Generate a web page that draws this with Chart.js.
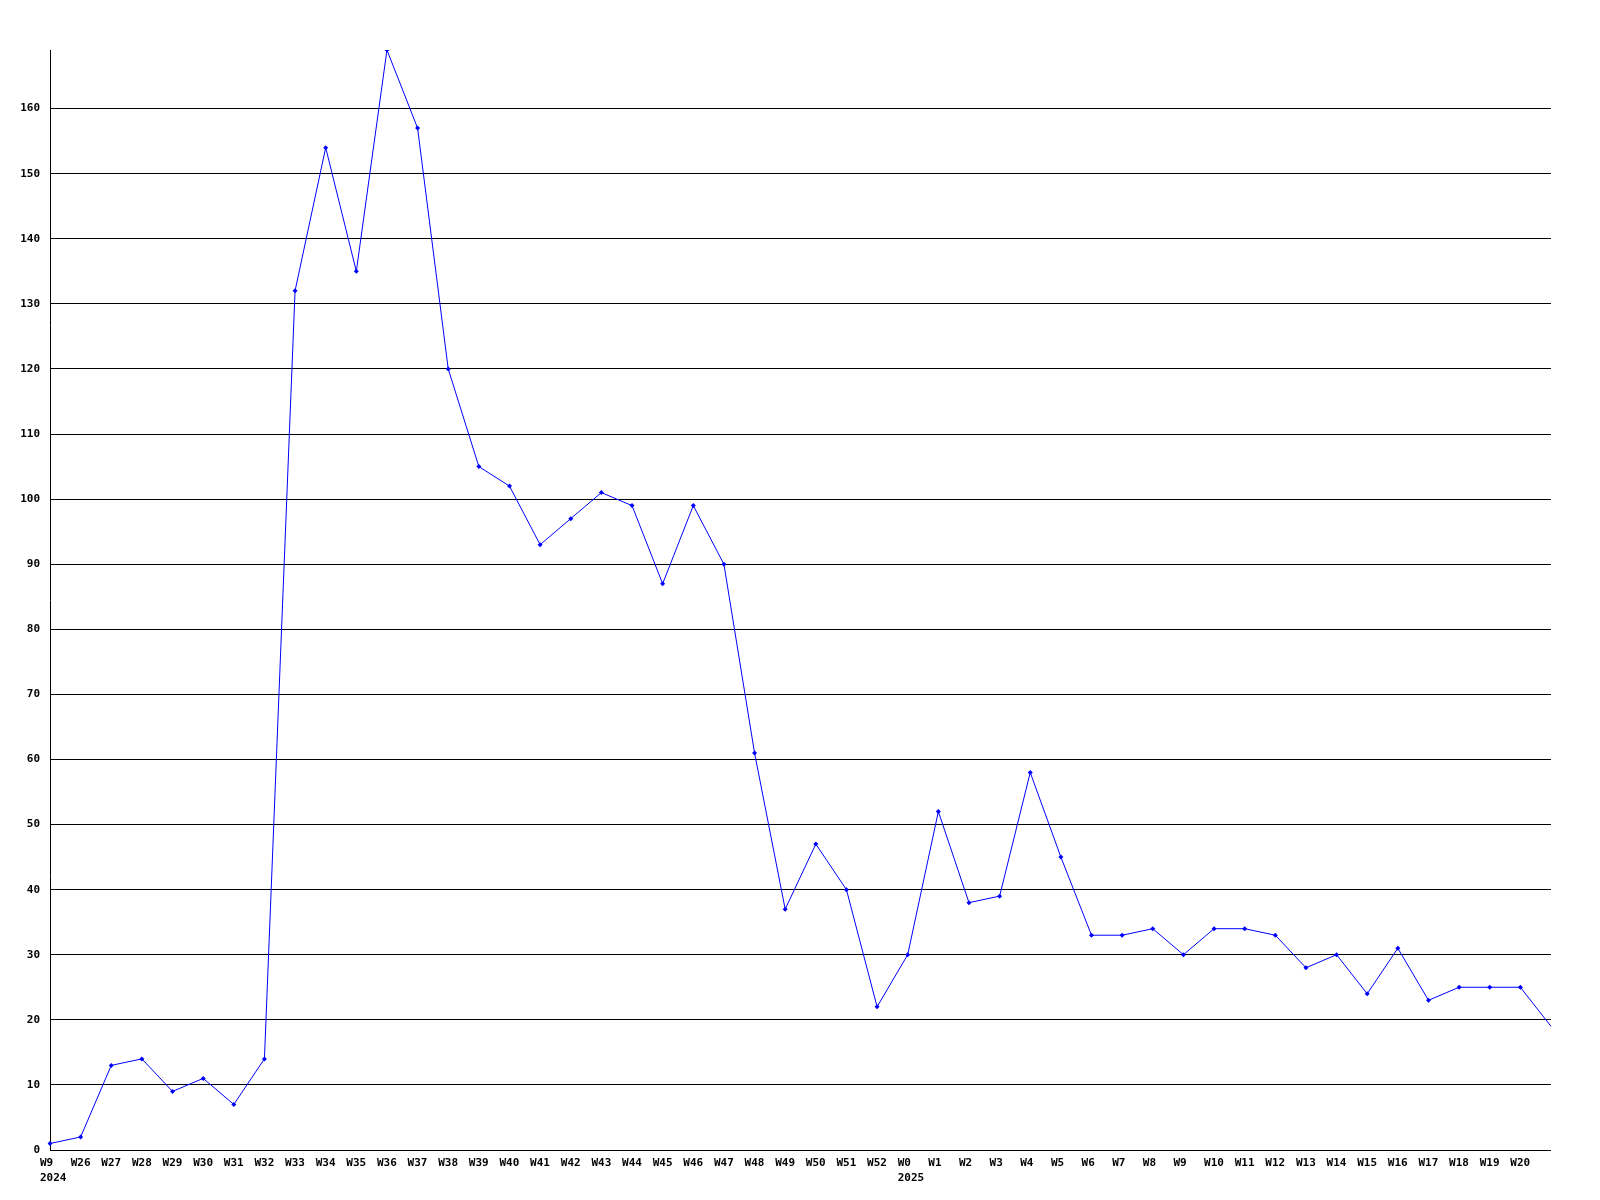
<!DOCTYPE html>
<html>
<head>
<meta charset="utf-8">
<script src="https://cdn.jsdelivr.net/npm/chart.js@4/dist/chart.umd.min.js"></script>
<style>
html,body{margin:0;padding:0;background:#fff;}
#wrap{width:1600px;height:1200px;}
</style>
</head>
<body>
<div id="wrap"><canvas id="c" width="1600" height="1200"></canvas></div>
<script>
const categories = [
  ["W9","2024"],"W26","W27","W28","W29","W30","W31","W32","W33","W34","W35","W36","W37","W38","W39","W40",
  "W41","W42","W43","W44","W45","W46","W47","W48","W49","W50","W51","W52",
  ["W0","2025"],"W1","W2","W3","W4","W5","W6","W7","W8","W9","W10","W11","W12","W13","W14","W15","W16",
  "W17","W18","W19","W20","W21"
];
const values = [
  1,2,13,14,9,11,7,14,132,154,135,169,157,120,105,102,
  93,97,101,99,87,99,90,61,37,47,40,22,
  30,52,38,39,58,45,33,33,34,30,34,34,33,28,30,24,31,
  23,25,25,25,19
];
const yTickStep = 10;
const yMax = 169;

const font = {family: "'DejaVu Sans Mono', 'Liberation Mono', monospace", size: 11, weight: 'bold', lineHeight: 1.42};

new Chart(document.getElementById('c'), {
  type: 'line',
  data: {
    labels: categories,
    datasets: [{
      data: values,
      borderColor: '#0000ff',
      backgroundColor: '#0000ff',
      borderWidth: 1,
      pointStyle: 'rectRot',
      pointRadius: values.map((v,i) => i === values.length-1 ? 0 : 2.5),
      pointBorderWidth: 0,
      pointHoverRadius: 0,
      tension: 0,
      fill: false
    }]
  },
  options: {
    responsive: false,
    animation: false,
    devicePixelRatio: 1,
    layout: {padding: {top: 50, right: 49, left: 0, bottom: 0}},
    plugins: {legend: {display: false}, tooltip: {enabled: false}},
    scales: {
      x: {
        type: 'category',
        offset: false,
        grid: {display: false, drawTicks: false},
        border: {display: false},
        ticks: {
          autoSkip: false, maxRotation: 0, minRotation: 0,
          align: 'start', labelOffset: -10, padding: 5,
          color: '#000', font: font,
          callback: function(v, i) { return i === categories.length-1 ? '' : this.getLabelForValue(v); }
        },
        afterFit: s => { s.height = 50; s.paddingLeft = 0; s.paddingRight = 0; }
      },
      y: {
        min: 0, max: yMax,
        grid: {color: '#000', lineWidth: 1, drawTicks: false},
        border: {display: true, color: '#000', width: 1},
        ticks: {stepSize: yTickStep, includeBounds: false, padding: 10, color: '#000', font: font},
        afterFit: s => { s.width = 50; s.paddingTop = 0; s.paddingBottom = 0; }
      }
    }
  }
});
</script>
</body>
</html>
